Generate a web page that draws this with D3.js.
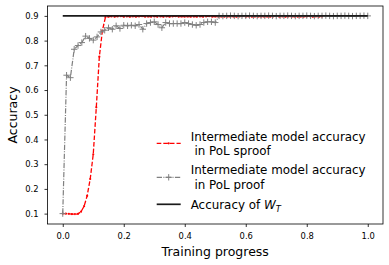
<!DOCTYPE html>
<html><head><meta charset="utf-8">
<script src="https://cdn.jsdelivr.net/npm/d3@7"></script>
<style>body{margin:0;background:#fff} text{font-family:"DejaVu Sans",sans-serif}</style>
</head><body><svg id="c" width="389" height="265"></svg>
<script>
const xTicks = [0, 0.2, 0.4, 0.6, 0.8, 1.0];
const yTicks = [0.1, 0.2, 0.3, 0.4, 0.5, 0.6, 0.7, 0.8, 0.9];
const xLabel = "Training progress";
const yLabel = "Accuracy";
const sproofStep = 0.01;
const sproofAcc = [0.100,0.100,0.099,0.098,0.098,0.099,0.108,0.130,0.172,0.240,0.340,0.530,0.735,0.840,0.895,
 0.897,0.898,0.897,0.898,0.899,0.897,0.898,0.897,0.898,0.897,0.898,0.899,0.897,0.898,0.897,0.898,0.897,0.898,0.897,0.898,
 0.897,0.898,0.899,0.897,0.898,0.897,0.898,0.897,0.898,0.897,0.898,0.897,0.898,0.899,0.897,0.898,0.897,0.898,0.897,0.898,
 0.897,0.898,0.897,0.898,0.899,0.897,0.898,0.897,0.898,0.897,0.898,0.897,0.898,0.897,0.898,0.899,0.897,0.898,0.897,0.898,
 0.897,0.898,0.897,0.898,0.897,0.898,0.899,0.897,0.898,0.897,0.898];
const proofStep = 0.0125;
const proofAcc = [0.100,0.660,0.650,0.765,0.780,0.792,0.818,0.809,0.802,0.815,0.835,0.842,0.852,0.846,0.860,0.849,0.862,0.860,0.862,0.860,
 0.865,0.846,0.869,0.873,0.876,0.865,0.852,0.873,0.869,0.869,0.869,0.869,0.873,0.869,0.865,0.862,0.865,0.873,0.876,0.876,0.873,
 0.900,0.899,0.900,0.901,0.900,0.899,0.900,0.900,0.901,0.900,0.899,0.900,0.900,0.901,0.900,0.899,0.900,0.900,0.901,0.900,
 0.899,0.900,0.900,0.901,0.900,0.899,0.900,0.900,0.901,0.900,0.899,0.900,0.900,0.901,0.900,0.899,0.900,0.900,0.901,0.900];
const wtX = [0, 1];
const wtAcc = [0.9, 0.9];
const legendLabels = [["Intermediate model accuracy", " in PoL sproof"], ["Intermediate model accuracy", " in PoL proof"]];

const svg = d3.select("#c");
svg.append("rect").attr("width",389).attr("height",265).attr("fill","#fff");
const L=47.5,R=383,T=6,B=224;
const x = d3.scaleLinear().domain([-0.05,1.05]).range([L,R]);
const y = d3.scaleLinear().domain([0.058,0.94]).range([B,T]);

const sproof = sproofAcc.map((v,i)=>[i*sproofStep,v]);
const proof = proofAcc.map((v,i)=>[i*proofStep,v]);
const wt = wtX.map((v,i)=>[v,wtAcc[i]]);
const line = d3.line().x(d=>x(d[0])).y(d=>y(d[1]));

const g = svg.append("g");
// red sproof
g.append("path").attr("d",line(sproof)).attr("fill","none").attr("stroke","#ff0000")
 .attr("stroke-width",1.3).attr("stroke-dasharray","4.6,2");
g.selectAll("circle.r").data(sproof).enter().append("circle").attr("cx",d=>x(d[0])).attr("cy",d=>y(d[1]))
 .attr("r",1.1).attr("fill","#ff0000");
// gray proof
g.append("path").attr("d",line(proof)).attr("fill","none").attr("stroke","#808080")
 .attr("stroke-width",1.2).attr("stroke-dasharray","5.3,1.4,1,1.4");
const plus = (sel,cx,cy,s)=>sel.append("path").attr("d",`M${cx-s},${cy}H${cx+s}M${cx},${cy-s}V${cy+s}`)
 .attr("stroke","#808080").attr("stroke-width",1).attr("fill","none");
proof.forEach(d=>plus(g,x(d[0]),y(d[1]),3.2));
// black W_T
g.append("path").attr("d",line(wt)).attr("fill","none").attr("stroke","#1a1a1a").attr("stroke-width",1.7);

// frame
svg.append("rect").attr("x",L).attr("y",T).attr("width",R-L).attr("height",B-T)
 .attr("fill","none").attr("stroke","#000").attr("stroke-width",0.8);

// axes
const xa = svg.append("g").attr("transform",`translate(0,${B})`)
 .call(d3.axisBottom(x).tickValues(xTicks).tickSize(3).tickPadding(6).tickFormat(d3.format(".1f")));
const ya = svg.append("g").attr("transform",`translate(${L},0)`)
 .call(d3.axisLeft(y).tickValues(yTicks).tickSize(3).tickPadding(6).tickFormat(d3.format(".1f")));
[xa,ya].forEach(a=>{a.select(".domain").remove();
 a.selectAll("text").attr("font-family","DejaVu Sans").attr("font-size","8.4px").attr("fill","#000");
 a.selectAll("line").attr("stroke","#000").attr("stroke-width",0.8);});

svg.append("text").attr("x",(L+R)/2).attr("y",256).attr("text-anchor","middle")
 .attr("font-size","12.5px").attr("fill","#000").text(xLabel);
svg.append("text").attr("transform",`translate(17,${(T+B)/2}) rotate(-90)`).attr("text-anchor","middle")
 .attr("font-size","12.5px").attr("fill","#000").text(yLabel);

// legend
const lg = svg.append("g");
const hx0=156.7, hx1=180.7, tx=190.7, fs="11.9px";
const rows=[{hy:143.3,b1:140.5,b2:154.5},{hy:177.3,b1:174.3,b2:188.5}];
// row1 handle
lg.append("line").attr("x1",hx0).attr("x2",hx1).attr("y1",rows[0].hy).attr("y2",rows[0].hy)
 .attr("stroke","#ff0000").attr("stroke-width",1.3).attr("stroke-dasharray","4.6,2");
lg.append("circle").attr("cx",(hx0+hx1)/2).attr("cy",rows[0].hy).attr("r",1.1).attr("fill","#ff0000");
// row2 handle
lg.append("line").attr("x1",hx0).attr("x2",hx1).attr("y1",rows[1].hy).attr("y2",rows[1].hy)
 .attr("stroke","#808080").attr("stroke-width",1.2).attr("stroke-dasharray","5.3,1.4,1,1.4");
plus(lg,(hx0+hx1)/2,rows[1].hy,3.2);
rows.forEach((r,i)=>{
 lg.append("text").attr("x",tx).attr("y",r.b1).attr("font-size",fs).attr("fill","#000").text(legendLabels[i][0]);
 lg.append("text").attr("x",tx).attr("y",r.b2).attr("font-size",fs).attr("fill","#000")
  .style("white-space","pre").text(legendLabels[i][1]);
});
// row3
lg.append("line").attr("x1",hx0).attr("x2",hx1).attr("y1",204.3).attr("y2",204.3)
 .attr("stroke","#1a1a1a").attr("stroke-width",1.7);
const t3 = lg.append("text").attr("x",tx).attr("y",209.3).attr("font-size",fs).attr("fill","#000");
t3.append("tspan").text("Accuracy of ");
t3.append("tspan").attr("font-style","italic").text("W");
t3.append("tspan").attr("font-style","italic").attr("font-size","8.4px").attr("dy",2.5).text("T");
</script></body></html>
